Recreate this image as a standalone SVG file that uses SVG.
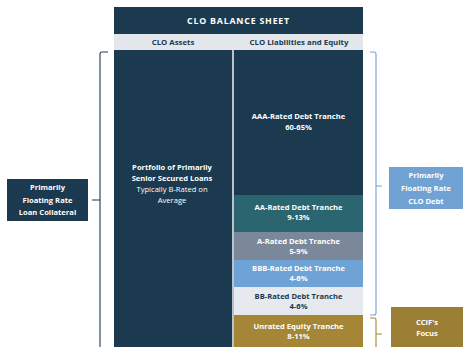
<svg xmlns="http://www.w3.org/2000/svg" width="463" height="347" viewBox="0 0 463 347">
<style>
text{font-family:"Open Sans","Liberation Sans",sans-serif;text-anchor:middle;font-size:7.6px}
.b{font-weight:bold}
.w{fill:#ffffff}
.d{fill:#1b3a4f}
.br{fill:none;stroke-width:1.1}
</style>
<rect width="463" height="347" fill="#ffffff"/>
<g id="header">
<rect x="114" y="7" width="249" height="27" fill="#1b3a4f"/>
<text x="238.5" y="24" class="b w" style="font-size:8.8px;letter-spacing:0.8px">CLO BALANCE SHEET</text>
<rect x="114" y="34" width="249" height="16" fill="#e3e6ea"/>
<text x="173" y="45" class="b d" style="font-size:7.8px">CLO Assets</text>
<text x="299" y="45" class="b d" style="font-size:7.8px">CLO Liabilities and Equity</text>
</g>
<g id="assets">
<rect x="114" y="50" width="118" height="297" fill="#1b3a4f"/>
<text x="172" y="170" class="b w">Portfolio of Primarily</text>
<text x="172" y="181" class="b w">Senior Secured Loans</text>
<text x="172" y="192" class="w">Typically B-Rated on</text>
<text x="172" y="203" class="w">Average</text>
</g>
<rect x="232" y="50" width="2" height="297" fill="#b9c3cc"/>
<g id="aaa">
<rect x="234" y="50" width="129" height="145" fill="#1b3a4f"/>
<text x="298.5" y="119" class="b w">AAA-Rated Debt Tranche</text>
<text x="298.5" y="130" class="b w">60-65%</text>
</g>
<g id="aa">
<rect x="234" y="195" width="129" height="37" fill="#2a6570"/>
<text x="298.5" y="210" class="b w">AA-Rated Debt Tranche</text>
<text x="298.5" y="220" class="b w">9-13%</text>
</g>
<g id="a">
<rect x="234" y="232" width="129" height="28" fill="#7a889a"/>
<text x="298.5" y="244" class="b w">A-Rated Debt Tranche</text>
<text x="298.5" y="254" class="b w">5-9%</text>
</g>
<g id="bbb">
<rect x="234" y="260" width="129" height="27" fill="#6fa3d6"/>
<text x="298.5" y="271" class="b w">BBB-Rated Debt Tranche</text>
<text x="298.5" y="281" class="b w">4-6%</text>
</g>
<g id="bb">
<rect x="234" y="287" width="129" height="28" fill="#e6e9ed"/>
<text x="298.5" y="299" class="b d">BB-Rated Debt Tranche</text>
<text x="298.5" y="309" class="b d">4-6%</text>
</g>
<g id="equity">
<rect x="234" y="315" width="129" height="32" fill="#a48636"/>
<text x="298.5" y="329" class="b w">Unrated Equity Tranche</text>
<text x="298.5" y="339" class="b w">8-11%</text>
</g>
<g id="collateral">
<rect x="7" y="179" width="81" height="42" fill="#1b3a4f"/>
<text x="47.5" y="190" class="b w">Primarily</text>
<text x="47.5" y="203" class="b w">Floating Rate</text>
<text x="47.5" y="215" class="b w">Loan Collateral</text>
</g>
<g id="clodebt">
<rect x="389" y="167" width="74" height="42" fill="#70a3d4"/>
<text x="426" y="178" class="b w">Primarily</text>
<text x="426" y="191" class="b w">Floating Rate</text>
<text x="426" y="204" class="b w">CLO Debt</text>
</g>
<g id="focus">
<rect x="391" y="307" width="72" height="40" fill="#9c7e35"/>
<text x="427" y="325" class="b w">CCIF's</text>
<text x="427" y="336" class="b w">Focus</text>
</g>
<g id="connectors">
<path class="br" stroke="#1b3a4f" d="M108,52 H102 Q100,52 100,54 V347 M100,200 H92"/>
<path class="br" stroke="#70a3d4" d="M370,52 H374 Q376,52 376,54 V313 Q376,315 374,315 H370 M376,186 H382"/>
<path class="br" stroke="#a48636" d="M370,318 H374 Q376,318 376,320 V347 M376,334 H382"/>
</g>
</svg>
